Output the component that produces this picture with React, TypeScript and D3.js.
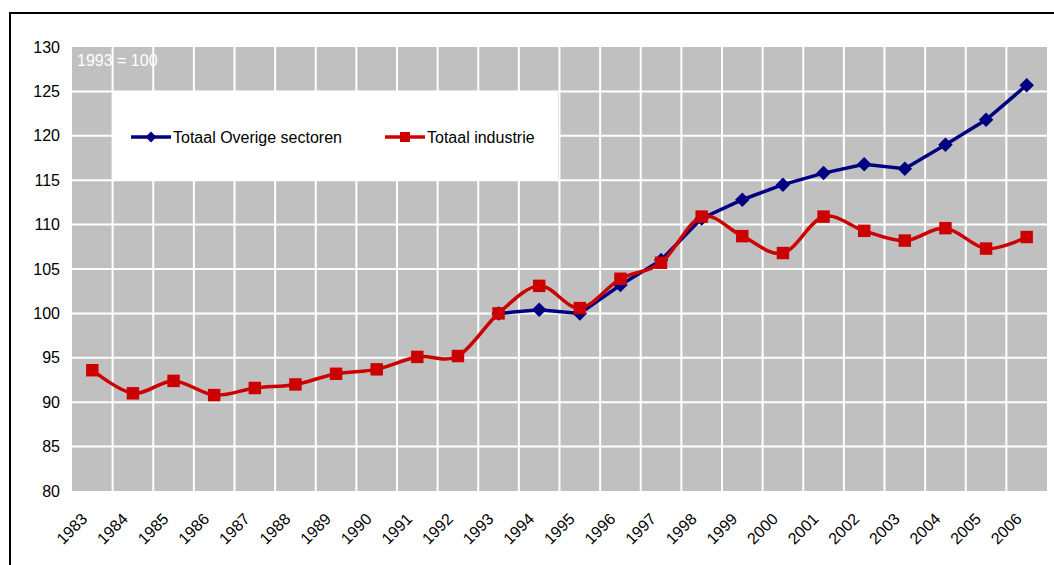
import React, { useEffect, useRef } from 'react';
import * as d3 from 'd3';

const years = [
  '1983', '1984', '1985', '1986', '1987', '1988', '1989', '1990', '1991', '1992', '1993', '1994',
  '1995', '1996', '1997', '1998', '1999', '2000', '2001', '2002', '2003', '2004', '2005', '2006',
];

const industrie = [
  93.6, 91.0, 92.4, 90.8, 91.6, 92.0, 93.2, 93.7, 95.1, 95.2, 100.0, 103.1,
  100.6, 103.9, 105.7, 110.9, 108.7, 106.8, 110.9, 109.3, 108.2, 109.6, 107.3, 108.6,
];

// starts in 1993
const overigeYears = years.slice(10);
const overige = [100.0, 100.4, 100.0, 103.2, 106.0, 110.7, 112.8, 114.5, 115.8, 116.8, 116.3, 119.0, 121.8, 125.7];

const yTicks = [80, 85, 90, 95, 100, 105, 110, 115, 120, 125, 130];

const W = 1054;
const H = 565;
const BLUE = '#000080';
const RED = '#CC0000';
const FONT = '"Liberation Sans", Arial, sans-serif';
const FS = '16px';

const App: React.FC = () => {
  const svgRef = useRef<SVGSVGElement>(null);

  useEffect(() => {
    if (!svgRef.current) return;
    const svg = d3.select(svgRef.current);
    svg.selectAll('*').remove();

    const left = 72, right = 1047, top = 47, bottom = 491;

    const x = d3.scaleBand().domain(years).range([left, right]);
    const y = d3.scaleLinear().domain([80, 130]).range([bottom, top]);
    const cx = (d: string) => (x(d) as number) + x.bandwidth() / 2;

    // outer frame
    svg.append('path')
      .attr('d', `M10,${H} L10,13 L${W},13`)
      .attr('fill', 'none')
      .attr('stroke', '#000')
      .attr('stroke-width', 2);

    // plot background
    svg.append('rect')
      .attr('x', left).attr('y', top)
      .attr('width', right - left).attr('height', bottom - top)
      .attr('fill', '#C0C0C0');

    // grid
    const grid = svg.append('g').attr('stroke', '#fff').attr('stroke-width', 2);
    yTicks.slice(1, -1).forEach(t => {
      grid.append('line')
        .attr('x1', left).attr('x2', right)
        .attr('y1', y(t)).attr('y2', y(t));
    });
    years.slice(1).forEach(yr => {
      grid.append('line')
        .attr('x1', x(yr) as number).attr('x2', x(yr) as number)
        .attr('y1', top).attr('y2', bottom);
    });

    // y axis labels
    svg.append('g')
      .selectAll('text')
      .data(yTicks)
      .enter()
      .append('text')
      .attr('x', 60)
      .attr('y', d => y(d) + 5.5)
      .attr('text-anchor', 'end')
      .style('font-family', FONT)
      .style('font-size', FS)
      .attr('fill', '#000')
      .text(d => d);

    // x axis labels
    svg.append('g')
      .selectAll('text')
      .data(years)
      .enter()
      .append('text')
      .attr('transform', d => `translate(${cx(d) - 4},${520}) rotate(-45)`)
      .attr('text-anchor', 'end')
      .style('font-family', FONT)
      .style('font-size', FS)
      .attr('fill', '#000')
      .text(d => d);

    svg.append('text')
      .attr('x', 77).attr('y', 66)
      .style('font-family', FONT)
      .style('font-size', FS)
      .attr('fill', '#fff')
      .text('1993 = 100');

    // legend box
    svg.append('rect')
      .attr('x', 112).attr('y', 91)
      .attr('width', 446).attr('height', 90)
      .attr('fill', '#fff');

    const diamond = d3.symbol().type(d3.symbolSquare).size(105);
    const square = d3.symbol().type(d3.symbolSquare).size(155);

    // Totaal Overige sectoren
    const blueLine = d3.line<number>()
      .x((_, i) => cx(overigeYears[i]))
      .y(d => y(d));
    svg.append('path')
      .datum(overige)
      .attr('d', blueLine)
      .attr('fill', 'none')
      .attr('stroke', BLUE)
      .attr('stroke-width', 3.5);
    svg.append('g')
      .selectAll('path')
      .data(overige)
      .enter()
      .append('path')
      .attr('d', diamond)
      .attr('transform', (d, i) => `translate(${cx(overigeYears[i])},${y(d)}) rotate(45)`)
      .attr('fill', BLUE);

    // Totaal industrie (smoothed)
    const redLine = d3.line<number>()
      .x((_, i) => cx(years[i]))
      .y(d => y(d))
      .curve(d3.curveCardinal.tension(0));
    svg.append('path')
      .datum(industrie)
      .attr('d', redLine)
      .attr('fill', 'none')
      .attr('stroke', RED)
      .attr('stroke-width', 3.5);
    svg.append('g')
      .selectAll('path')
      .data(industrie)
      .enter()
      .append('path')
      .attr('d', square)
      .attr('transform', (d, i) => `translate(${cx(years[i])},${y(d)})`)
      .attr('fill', RED);

    // legend entries
    const legendItems = [
      { label: 'Totaal Overige sectoren', color: BLUE, x0: 131, marker: 'diamond' },
      { label: 'Totaal industrie', color: RED, x0: 385, marker: 'square' },
    ];
    legendItems.forEach(item => {
      const g = svg.append('g');
      g.append('line')
        .attr('x1', item.x0).attr('x2', item.x0 + 40)
        .attr('y1', 137).attr('y2', 137)
        .attr('stroke', item.color).attr('stroke-width', 3.5);
      g.append('path')
        .attr('d', item.marker === 'diamond' ? d3.symbol().type(d3.symbolSquare).size(60)() : d3.symbol().type(d3.symbolSquare).size(100)())
        .attr('transform', `translate(${item.x0 + 20},137)${item.marker === 'diamond' ? ' rotate(45)' : ''}`)
        .attr('fill', item.color);
      g.append('text')
        .attr('x', item.x0 + 42).attr('y', 143)
        .style('font-family', FONT)
        .style('font-size', FS)
        .attr('fill', '#000')
        .text(item.label);
    });
  }, []);

  return (
    <svg
      ref={svgRef}
      width={W}
      height={H}
      style={{ position: 'absolute', left: 0, top: 0, background: '#fff' }}
    />
  );
};

export default App;
